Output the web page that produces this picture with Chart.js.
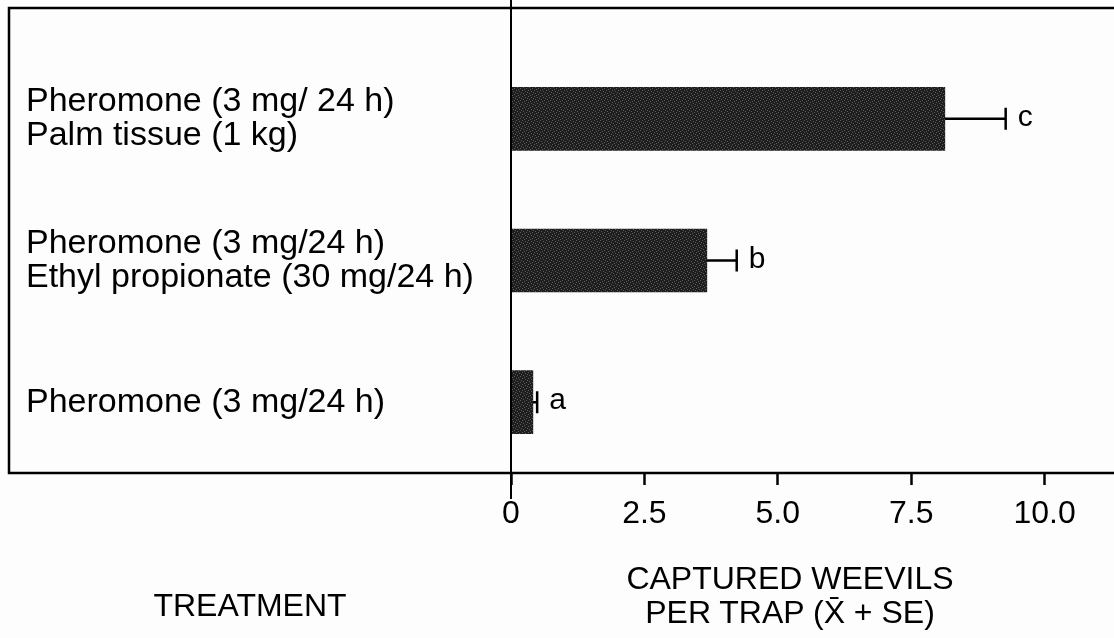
<!DOCTYPE html>
<html lang="en">
<head>
    <meta charset="UTF-8">
    <title>Captured weevils per trap</title>
    <script src="https://cdn.jsdelivr.net/npm/chart.js"></script>
    <style>
        body {
            margin: 0;
            padding: 0;
            background-color: #fdfdfd;
            font-family: 'Liberation Sans', Arial, sans-serif;
            color: #000;
        }
        .wrap {
            position: relative;
            width: 1114px;
            height: 638px;
        }
        .axis-title {
            position: absolute;
            font-size: 32px;
            line-height: 34px;
            text-align: center;
            color: #000;
        }
    </style>
</head>
<body>

<div class="wrap">
    <canvas id="weevilChart"></canvas>
    <div class="axis-title" style="left: 130px; top: 588px; width: 240px;">TREATMENT</div>
    <div class="axis-title" style="left: 590px; top: 561px; width: 400px;">CAPTURED WEEVILS<br>PER TRAP (X&#772; + SE)</div>
</div>

<script>
    // data
    const treatments = [
        ["Pheromone (3 mg/ 24 h)", "Palm tissue (1 kg)"],
        ["Pheromone (3 mg/24 h)", "Ethyl propionate (30 mg/24 h)"],
        ["Pheromone (3 mg/24 h)"]
    ];
    const meanCaptures = [8.13, 3.67, 0.41];
    const stdErrors = [1.14, 0.56, 0.08];
    const sigLetters = ["c", "b", "a"];
    const xTickValues = [0, 2.5, 5.0, 7.5, 10.0];
    const xMax = 11.3;

    const FONT = "'Liberation Sans', Arial, sans-serif";

    // stippled dark fill like the printed bars
    function stipple() {
        const c = document.createElement("canvas");
        c.width = 6; c.height = 6;
        const g = c.getContext("2d");
        g.fillStyle = "#1e1e1e";
        g.fillRect(0, 0, 6, 6);
        g.fillStyle = "#5c5c5c";
        [[0, 0], [3, 1], [1, 3], [4, 4], [5, 2], [2, 5]].forEach(p => g.fillRect(p[0], p[1], 1, 1));
        return g.createPattern(c, "repeat");
    }

    const framePlugin = {
        id: "frame",
        afterDraw(chart) {
            const ctx = chart.ctx;
            const area = chart.chartArea;
            const x0 = chart.scales.x.getPixelForValue(0);
            ctx.save();
            ctx.strokeStyle = "#000";
            ctx.lineWidth = 2.5;
            ctx.beginPath();
            // outer frame (top, left, bottom)
            ctx.moveTo(1114, 8);
            ctx.lineTo(9, 8);
            ctx.lineTo(9, area.bottom);
            ctx.lineTo(1114, area.bottom);
            ctx.stroke();
            // value axis at zero
            ctx.lineWidth = 2;
            ctx.beginPath();
            ctx.moveTo(x0, 0);
            ctx.lineTo(x0, area.bottom + 26);
            ctx.stroke();
            ctx.restore();
        }
    };

    const errorBarPlugin = {
        id: "errorBars",
        afterDatasetsDraw(chart) {
            const ctx = chart.ctx;
            const xs = chart.scales.x;
            const bars = chart.getDatasetMeta(0).data;
            ctx.save();
            ctx.strokeStyle = "#000";
            ctx.fillStyle = "#000";
            ctx.lineWidth = 2.5;
            ctx.font = "30px " + FONT;
            ctx.textBaseline = "middle";
            ctx.textAlign = "left";
            bars.forEach((bar, i) => {
                const xStart = xs.getPixelForValue(meanCaptures[i]);
                const xEnd = xs.getPixelForValue(meanCaptures[i] + stdErrors[i]);
                const y = bar.y;
                ctx.beginPath();
                ctx.moveTo(xStart, y);
                ctx.lineTo(xEnd, y);
                ctx.moveTo(xEnd, y - 11);
                ctx.lineTo(xEnd, y + 11);
                ctx.stroke();
                ctx.fillText(sigLetters[i], xEnd + 12, y - 1);
            });
            ctx.restore();
        }
    };

    new Chart(document.getElementById("weevilChart"), {
        type: "bar",
        data: {
            labels: treatments,
            datasets: [{
                data: meanCaptures,
                backgroundColor: stipple(),
                borderWidth: 0,
                barThickness: 63
            }]
        },
        options: {
            indexAxis: "y",
            responsive: true,
            maintainAspectRatio: false,
            animation: false,
            layout: {
                padding: { top: 48, left: 26, right: 0, bottom: 0 }
            },
            plugins: {
                legend: { display: false },
                tooltip: { enabled: false }
            },
            scales: {
                y: {
                    grid: { display: false },
                    border: { display: false },
                    afterFit(scale) { scale.width = 485; },
                    ticks: {
                        crossAlign: "far",
                        color: "#000",
                        font: { family: FONT, size: 34, lineHeight: 1.0 }
                    }
                },
                x: {
                    min: 0,
                    max: xMax,
                    border: { display: false },
                    grid: {
                        drawOnChartArea: false,
                        tickLength: 12,
                        tickWidth: 2.5,
                        tickColor: "#000"
                    },
                    afterBuildTicks(scale) {
                        scale.ticks = xTickValues.map(v => ({ value: v }));
                    },
                    afterFit(scale) { scale.height = 165; },
                    ticks: {
                        color: "#000",
                        padding: 10,
                        maxRotation: 0,
                        font: { family: FONT, size: 32 },
                        callback: v => v === 0 ? "0" : v.toFixed(1)
                    }
                }
            }
        },
        plugins: [framePlugin, errorBarPlugin]
    });
</script>
</body>
</html>
